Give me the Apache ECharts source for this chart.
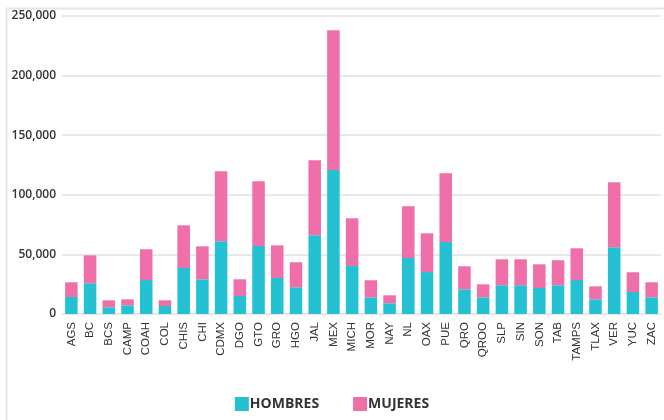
<!DOCTYPE html>
<html>
<head>
<meta charset="utf-8">
<script src="https://cdn.jsdelivr.net/npm/echarts@6/dist/echarts.min.js"></script>
<style>
html,body{margin:0;padding:0;background:#fff;}
#c{width:664px;height:420px;}
</style>
</head>
<body>
<div id="c"></div>
<script>
var categories = ["AGS","BC","BCS","CAMP","COAH","COL","CHIS","CHI","CDMX","DGO","GTO","GRO","HGO","JAL","MEX","MICH","MOR","NAY","NL","OAX","PUE","QRO","QROO","SLP","SIN","SON","TAB","TAMPS","TLAX","VER","YUC","ZAC"];
var hombres = [14300,25800,5600,7300,28500,6700,38600,29100,61000,15100,57100,30200,22400,66000,120800,40300,14000,9000,47000,35200,60400,20700,14000,24100,24100,21800,24100,28500,12300,56000,18500,14000];
var totales = [26600,49200,11500,12300,54300,11500,74400,56800,119700,29100,111300,57600,43400,129000,238000,80300,28300,15700,90400,67700,118000,40000,24900,45900,45900,41700,45100,55100,23200,110500,35000,26600];
var mujeres = totales.map(function(t,i){return t - hombres[i];});
var yTicks = [0,50000,100000,150000,200000,250000];

var chart = echarts.init(document.getElementById('c'), null, {renderer:'canvas'});
chart.setOption({
  animation:false,
  backgroundColor:'#ffffff',
  graphic:[{
    type:'rect', silent:true, z:-10,
    shape:{x:6.5,y:8.5,width:700,height:500},
    style:{fill:'none',stroke:'#e6e6e6',lineWidth:2}
  }],
  grid:{left:62,right:3,top:16,bottom:106,containLabel:false},
  legend:{
    data:['HOMBRES','MUJERES'],
    bottom:4,
    left:'center',
    itemWidth:14,itemHeight:14,itemGap:34,
    icon:'rect',
    textStyle:{fontFamily:'Open Sans',fontWeight:700,fontSize:14,color:'#333',padding:[0,0,0,-4]}
  },
  xAxis:{
    type:'category',
    data:categories,
    axisTick:{show:false},
    axisLine:{show:true,lineStyle:{color:'#e8e8e8',width:2}},
    axisLabel:{rotate:90,interval:0,fontFamily:'Liberation Sans',fontSize:11.5,color:'#333',margin:8}
  },
  yAxis:{
    type:'value',
    min:0,max:250000,interval:50000,
    axisLine:{show:false},
    axisTick:{show:false},
    splitLine:{lineStyle:{color:'#e8e8e8',width:2}},
    axisLabel:{
      fontFamily:'Open Sans',fontWeight:600,fontSize:12,color:'#333',margin:6,
      formatter:function(v){return yTicks.indexOf(v)>=0 ? v.toLocaleString('en-US') : '';}
    }
  },
  series:[
    {name:'HOMBRES',type:'bar',stack:'t',data:hombres,barWidth:'67%',itemStyle:{color:'#24c1d3'}},
    {name:'MUJERES',type:'bar',stack:'t',data:mujeres,barWidth:'67%',itemStyle:{color:'#ef6fa9'}}
  ]
});
</script>
</body>
</html>
